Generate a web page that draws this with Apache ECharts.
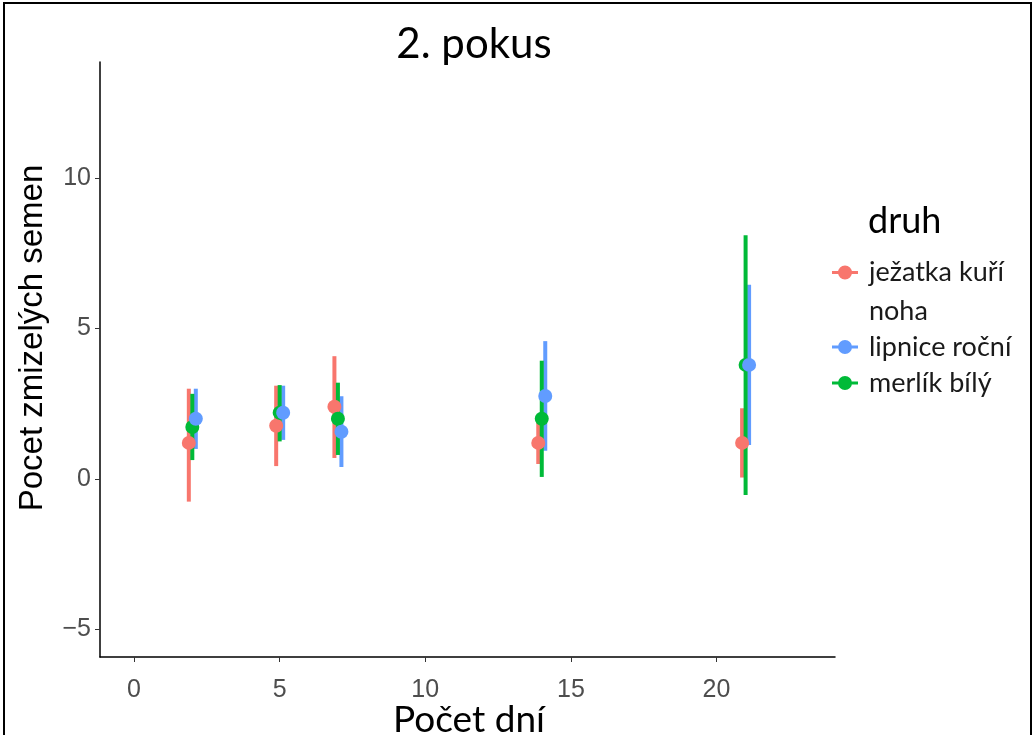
<!DOCTYPE html>
<html>
<head>
<meta charset="utf-8">
<script src="https://cdn.jsdelivr.net/npm/echarts@6/dist/echarts.min.js"></script>
<style>
  html, body { margin: 0; padding: 0; background: #fff; }
  #chart { width: 1035px; height: 735px; }
</style>
</head>
<body>
<div id="chart"></div>
<script>
// data
var days = [2, 5, 7, 14, 21];
var druhy = ['ježatka kuří noha', 'lipnice roční', 'merlík bílý'];
var barvy = ['#F8766D', '#619CFF', '#00BA38'];
var posun = [-0.12, 0.12, 0];   // dodge offset in days

var jezatkaMean = [1.2, 1.77, 2.4, 1.2, 1.2];
var jezatkaLo   = [-0.75, 0.43, 0.7, 0.5, 0.05];
var jezatkaHi   = [3.0, 3.1, 4.08, 1.9, 2.35];

var lipniceMean = [2.0, 2.2, 1.57, 2.76, 3.79];
var lipniceLo   = [1.0, 1.3, 0.4, 0.94, 1.13];
var lipniceHi   = [3.0, 3.1, 2.75, 4.58, 6.45];

var merlikMean = [1.73, 2.2, 2.0, 2.0, 3.79];
var merlikLo   = [0.63, 1.25, 0.8, 0.07, -0.53];
var merlikHi   = [2.83, 3.12, 3.2, 3.93, 8.1];

var xTicks = [0, 5, 10, 15, 20];
var yTicks = [-5, 0, 5, 10];

var means = [jezatkaMean, lipniceMean, merlikMean];
var los = [jezatkaLo, lipniceLo, merlikLo];
var his = [jezatkaHi, lipniceHi, merlikHi];

var chart = echarts.init(document.getElementById('chart'));

var series = [];
// error bars first
druhy.forEach(function (name, i) {
  series.push({
    name: name,
    type: 'custom',
    z: 2,
    itemStyle: { color: barvy[i] },
    data: days.map(function (d, k) { return [d + posun[i], los[i][k], his[i][k]]; }),
    renderItem: function (params, api) {
      var x = api.value(0);
      var p1 = api.coord([x, api.value(1)]);
      var p2 = api.coord([x, api.value(2)]);
      return {
        type: 'line',
        shape: { x1: p1[0], y1: p1[1], x2: p2[0], y2: p2[1] },
        style: { stroke: api.visual('color'), lineWidth: 4 }
      };
    }
  });
});
// points: red, green, blue (blue on top)
[0, 2, 1].forEach(function (i) {
  series.push({
    name: druhy[i],
    type: 'scatter',
    z: 3,
    symbolSize: 14,
    itemStyle: { color: barvy[i], opacity: 1 },
    data: days.map(function (d, k) { return [d + posun[i], means[i][k]]; })
  });
});

// legend icon: point with a line through it
var legendIcon = 'path://M0,5.5H26V8.5H0Z M20,7A7,7 0 1 1 6,7A7,7 0 1 1 20,7Z';
var legendText = { fontFamily: 'Lato', fontSize: 27, color: '#1a1a1a', padding: [0, 0, 0, 6] };

var axisFont = { fontFamily: 'Liberation Sans', fontSize: 25, color: '#4D4D4D' };
var option = {
  animation: false,
  backgroundColor: '#fff',
  grid: { left: 100, right: 200, top: 62, bottom: 78 },
  title: {
    text: '2. pokus',
    left: 469, top: 18, textAlign: 'center',
    textStyle: { fontFamily: 'Lato', fontSize: 42, fontWeight: 'normal', color: '#000' }
  },
  legend: [
    {
      // first entry wraps onto two lines, the empty first line keeps the marker on "ježatka kuří"
      orient: 'vertical', left: 827, top: 209,
      itemWidth: 26, itemHeight: 14,
      icon: legendIcon,
      data: [druhy[0]],
      formatter: function () { return ' \nježatka kuří\nnoha'; },
      textStyle: Object.assign({ lineHeight: 39 }, legendText)
    },
    {
      orient: 'vertical', left: 827, top: 324,
      itemWidth: 26, itemHeight: 14, itemGap: 0,
      icon: legendIcon,
      data: [druhy[1], druhy[2]],
      textStyle: Object.assign({ lineHeight: 36 }, legendText)
    }
  ],
  xAxis: {
    type: 'value', min: -1.17, max: 24.07,
    splitLine: { show: false },
    axisLine: { onZero: false, lineStyle: { color: '#000', width: 1.5 } },
    axisTick: { customValues: xTicks, length: 5, lineStyle: { color: '#333' } },
    axisLabel: Object.assign({ customValues: xTicks, margin: 21 }, axisFont)
  },
  yAxis: {
    type: 'value', min: -5.91, max: 13.85,
    splitLine: { show: false },
    axisLine: { onZero: false, lineStyle: { color: '#000', width: 1.5 } },
    axisTick: { customValues: yTicks, length: 5, lineStyle: { color: '#333' } },
    axisLabel: Object.assign({
      customValues: yTicks, margin: 9,
      formatter: function (v) { return v < 0 ? '\u2212' + Math.abs(v) : String(v); }
    }, axisFont)
  },
  graphic: [
    {
      type: 'rect', silent: true, z: 10,
      shape: { x: 4, y: 3, width: 1027, height: 745 },
      style: { fill: 'none', stroke: '#000', lineWidth: 2 }
    },
    {
      type: 'text', silent: true,
      x: 469, y: 720,
      style: { text: 'Počet dní', fontFamily: 'Lato', fontSize: 37, fill: '#000', align: 'center', verticalAlign: 'middle' }
    },
    {
      type: 'text', silent: true,
      x: 33, y: 338, rotation: Math.PI / 2,
      style: { text: 'Pocet zmizelých semen', fontFamily: 'Liberation Sans', fontSize: 33, fill: '#000', align: 'center', verticalAlign: 'middle' }
    },
    {
      type: 'text', silent: true,
      left: 868, top: 203,
      style: { text: 'druh', fontFamily: 'Lato', fontSize: 36, fill: '#000' }
    }
  ],
  series: series
};

chart.setOption(option);
window.addEventListener('resize', function () { chart.resize(); });
</script>
</body>
</html>
